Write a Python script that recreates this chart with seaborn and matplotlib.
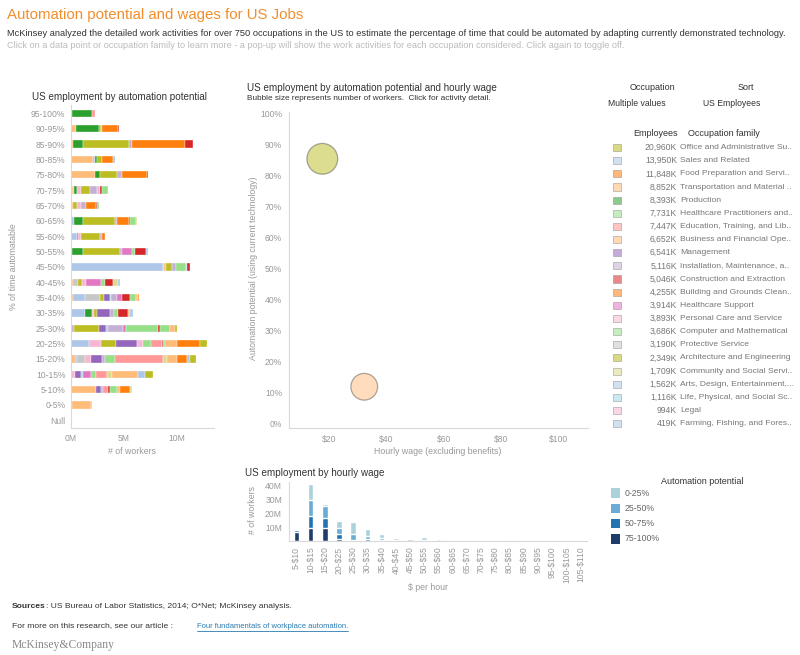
import matplotlib
matplotlib.use("Agg")
import matplotlib.pyplot as plt
import seaborn as sns
import numpy as np
import pandas as pd
from matplotlib.lines import Line2D

sns.set_theme(style="white")
plt.rcParams['font.family'] = ['Liberation Sans', 'DejaVu Sans']

W, H = 800, 655
tick_grey = "#999999"
text_dark = "#333333"
spine_grey = "#d9d9d9"

# ---------------- data ----------------
families = ["Office and Administrative Su..", "Sales and Related", "Food Preparation and Servi..",
            "Transportation and Material ..", "Production", "Healthcare Practitioners and..",
            "Education, Training, and Lib..", "Business and Financial Ope..", "Management",
            "Installation, Maintenance, a..", "Construction and Extraction", "Building and Grounds Clean..",
            "Healthcare Support", "Personal Care and Service", "Computer and Mathematical",
            "Protective Service", "Architecture and Engineering", "Community and Social Servi..",
            "Arts, Design, Entertainment,...", "Life, Physical, and Social Sc..", "Legal",
            "Farming, Fishing, and Fores.."]
family_codes = ["Office", "Sales", "Food", "Transport", "Production", "HealthPrac", "Education",
                "Business", "Management", "Install", "Construction", "Building", "HealthSup",
                "Personal", "Computer", "Protective", "Architecture", "Community", "Arts", "Life",
                "Legal", "Farming"]
employees_k = [20960, 13950, 11848, 8852, 8393, 7731, 7447, 6652, 6541, 5116, 5046, 4255,
               3914, 3893, 3686, 3190, 2349, 1709, 1562, 1116, 994, 419]
family_colors = ["#bcbd22", "#aec7e8", "#ff7f0e", "#ffbb78", "#2ca02c", "#98df8a", "#ff9896",
                 "#ffbb78", "#9467bd", "#c5b0d5", "#d62728", "#ff7f0e", "#e377c2", "#f7b6d2",
                 "#98df8a", "#c7c7c7", "#bcbd22", "#dbdb8d", "#aec7e8", "#9edae5", "#f7b6d2",
                 "#aec7e8"]
fam_color = dict(zip(family_codes, family_colors))

# workers (millions) by automation band, segmented by occupation family
auto_bands = ["95-100%", "90-95%", "85-90%", "80-85%", "75-80%", "70-75%", "65-70%", "60-65%",
              "55-60%", "50-55%", "45-50%", "40-45%", "35-40%", "30-35%", "25-30%", "20-25%",
              "15-20%", "10-15%", "5-10%", "0-5%", "Null"]
band_segments = [
    [("Transport", 0.13), ("Production", 1.85), ("Education", 0.25)],
    [("Transport", 0.47), ("Production", 2.15), ("Office", 0.25), ("Install", 0.1), ("Food", 1.5), ("Construction", 0.1)],
    [("Transport", 0.15), ("Production", 1.0), ("Office", 4.37), ("Install", 0.2), ("Food", 5.0), ("Construction", 0.82)],
    [("Transport", 2.12), ("Sales", 0.16), ("Production", 0.19), ("Office", 0.44), ("Food", 1.1), ("Arts", 0.1)],
    [("Transport", 2.28), ("Production", 0.44), ("Office", 1.58), ("Install", 0.5), ("Food", 2.37), ("Construction", 0.07)],
    [("Transport", 0.22), ("Sales", 0.1), ("Production", 0.22), ("Personal", 0.44), ("Office", 0.8), ("Install", 0.7),
     ("Legal", 0.3), ("Construction", 0.1), ("HealthPrac", 0.6)],
    [("Transport", 0.15), ("Office", 0.4), ("Personal", 0.35), ("Install", 0.55), ("Food", 0.9), ("Construction", 0.12),
     ("HealthPrac", 0.15)],
    [("Sales", 0.3), ("Production", 0.8), ("Office", 3.07), ("Install", 0.2), ("Food", 1.1), ("Construction", 0.12),
     ("HealthPrac", 0.57), ("Community", 0.06)],
    [("Sales", 0.57), ("Production", 0.1), ("Personal", 0.3), ("Office", 1.8), ("Install", 0.15), ("Food", 0.3)],
    [("Sales", 0.1), ("Production", 1.0), ("Office", 3.55), ("Install", 0.15), ("HealthSup", 0.95), ("HealthPrac", 0.3),
     ("Construction", 1.05), ("Arts", 0.2)],
    [("Sales", 8.64), ("Protective", 0.15), ("Transport", 0.15), ("Office", 0.6), ("Install", 0.35), ("HealthPrac", 0.95),
     ("Arts", 0.15), ("Construction", 0.25)],
    [("Transport", 0.2), ("Protective", 0.47), ("Office", 0.38), ("Personal", 0.35), ("HealthSup", 1.42),
     ("HealthPrac", 0.38), ("Construction", 0.8), ("Community", 0.47), ("Sales", 0.12)],
    [("Transport", 0.2), ("Sales", 1.08), ("Protective", 1.45), ("Office", 0.35), ("Management", 0.57), ("Life", 0.12),
     ("Install", 0.54), ("HealthSup", 0.47), ("Construction", 0.82), ("HealthPrac", 0.5), ("Business", 0.2), ("Food", 0.15)],
    [("Sales", 1.36), ("Production", 0.63), ("Personal", 0.22), ("Office", 0.25), ("Management", 1.2), ("Install", 0.4),
     ("HealthPrac", 0.38), ("Construction", 0.92), ("Transport", 0.25), ("Arts", 0.25)],
    [("Install", 0.25), ("Office", 2.37), ("Management", 0.66), ("Sales", 0.2), ("Install", 1.45), ("HealthSup", 0.25),
     ("HealthPrac", 3.04), ("Construction", 0.22), ("Computer", 0.92), ("Business", 0.44), ("Architecture", 0.2)],
    [("Sales", 1.68), ("Personal", 1.17), ("Office", 1.39), ("Management", 2.0), ("Legal", 0.6), ("HealthPrac", 0.73),
     ("Education", 1.0), ("Construction", 0.12), ("Computer", 0.22), ("Business", 1.1), ("Building", 2.15),
     ("Architecture", 0.7)],
    [("Transport", 0.38), ("Sales", 0.2), ("Protective", 0.7), ("Personal", 0.6), ("Management", 1.08), ("Install", 0.25),
     ("HealthPrac", 0.98), ("Education", 4.5), ("Community", 0.38), ("Business", 0.92), ("Building", 0.98),
     ("Arts", 0.22), ("Architecture", 0.57)],
    [("Personal", 0.38), ("Management", 0.54), ("Life", 0.19), ("HealthSup", 0.82), ("HealthPrac", 0.41),
     ("Education", 1.08), ("Community", 0.47), ("Business", 2.44), ("Arts", 0.66), ("Architecture", 0.76)],
    [("Transport", 2.4), ("Management", 0.41), ("Install", 0.22), ("Education", 0.5), ("Construction", 0.19),
     ("HealthPrac", 0.63), ("Business", 0.3), ("Building", 0.92), ("Community", 0.22)],
    [("Management", 0.12), ("Business", 1.74), ("HealthPrac", 0.12)],
    [("Computer", 0.12)],
]

# bubble chart
bubble_family = ["Office", "Business"]
bubble_wage = [17.7, 32.3]
bubble_auto = [85.5, 12.0]
bubble_workers = [20960, 6652]

# hourly wage histogram (millions of workers)
wage_bins = ["5-$10", "10-$15", "15-$20", "20-$25", "25-$30", "30-$35", "35-$40", "40-$45", "45-$50",
             "50-$55", "55-$60", "60-$65", "65-$70", "70-$75", "75-$80", "80-$85", "85-$90", "90-$95",
             "95-$100", "100-$105", "105-$110"]
auto_0_25 = [0.2, 11.1, 1.7, 5.1, 8.4, 5.1, 3.0, 2.0, 1.2, 2.4, 1.3, 0.1, 0.0, 0.0, 0.0, 0.4, 0.0, 0.0, 0.3, 0.0, 0.0]
auto_25_50 = [0.2, 12.1, 8.0, 3.9, 4.6, 2.5, 1.3, 0.4, 0.9, 0.7, 0.2, 0.0, 0.0, 0.0, 0.0, 0.0, 0.0, 0.0, 0.0, 0.0, 0.0]
auto_50_75 = [1.0, 8.5, 7.7, 4.1, 0.5, 1.2, 0.6, 0.1, 0.2, 0.1, 0.0, 0.0, 0.0, 0.0, 0.0, 0.0, 0.0, 0.0, 0.0, 0.0, 0.0]
auto_75_100 = [6.8, 9.2, 9.2, 1.2, 0.3, 0.2, 0.1, 0.0, 0.0, 0.0, 0.0, 0.0, 0.0, 0.0, 0.0, 0.0, 0.0, 0.0, 0.0, 0.0, 0.0]
auto_labels = ["0-25%", "25-50%", "50-75%", "75-100%"]
auto_colors = ["#abd1da", "#68acd7", "#2372b4", "#1f3d6b"]


def rect(l, t, r, b):
    return [l / W, 1 - b / H, (r - l) / W, (b - t) / H]


def ftext(x, y, s, **kw):
    kw.setdefault("va", "center")
    kw.setdefault("fontsize", 6.4)
    kw.setdefault("color", text_dark)
    return fig.text(x / W, 1 - y / H, s, **kw)


def style_axis(ax):
    for sp in ["top", "right"]:
        ax.spines[sp].set_visible(False)
    for sp in ["left", "bottom"]:
        ax.spines[sp].set_color(spine_grey)
        ax.spines[sp].set_linewidth(0.8)
    ax.tick_params(labelsize=6.2, labelcolor=tick_grey, color=spine_grey, length=3, width=0.6, pad=2)


fig = plt.figure(figsize=(W / 100, H / 100), dpi=100)

# header
ftext(7, 15, "Automation potential and wages for US Jobs", fontsize=10.8, color="#f28e2b")
ftext(7, 33, "McKinsey analyzed the detailed work activities for over 750 occupations in the US to estimate the "
             "percentage of time that could be automated by adapting currently demonstrated technology.",
      fontsize=6.65)
ftext(7, 46, "Click on a data point or occupation family to learn more - a pop-up will show the work activities "
             "for each occupation considered. Click again to toggle off.", fontsize=6.6, color="#bbbbbb")

# ---------------- left: stacked bars ----------------
ax1 = fig.add_axes(rect(71, 105, 214, 428))
for i, segs in enumerate(band_segments):
    left = 0.0
    for fam, v in segs:
        ax1.barh(i, v, left=left, height=0.48, color=fam_color[fam], edgecolor="white", linewidth=0.25)
        left += v
ax1.set_ylim(20.5, -0.55)
ax1.set_xlim(0, 13.5)
ax1.set_yticks(range(len(auto_bands)), auto_bands)
ax1.set_xticks([0, 5, 10], ["0M", "5M", "10M"])
style_axis(ax1)
ax1.tick_params(axis="y", length=0, pad=4)
ax1.tick_params(axis="x", length=0, pad=4)
ftext(32, 97, "US employment by automation potential", fontsize=7.1)
ftext(14, 267, "% of time automatable", fontsize=6.3, color=tick_grey, rotation=90, ha="center")
ftext(132, 451, "# of workers", fontsize=6.3, color=tick_grey, ha="center")

# ---------------- middle: bubble chart ----------------
ax2 = fig.add_axes(rect(289, 112, 588, 428))
bub = pd.DataFrame({"family": bubble_family, "wage": bubble_wage,
                    "automation": bubble_auto, "workers": bubble_workers})
sns.scatterplot(data=bub, x="wage", y="automation", hue="family",
                palette=[fam_color[f] for f in bubble_family], size="workers",
                sizes=(370, 490), alpha=0.5, edgecolor="#555555", linewidth=0.9,
                legend=False, ax=ax2)
ax2.set_xlim(6.1, 110.2)
ax2.set_ylim(-1.3, 100.6)
ax2.set_yticks(range(0, 101, 10), [f"{v}%" for v in range(0, 101, 10)])
ax2.set_xticks(range(20, 101, 20), [f"${v}" for v in range(20, 101, 20)])
ax2.set_xlabel("")
ax2.set_ylabel("")
style_axis(ax2)
ax2.tick_params(axis="x", length=0, pad=5)
ftext(247, 88, "US employment by automation potential and hourly wage", fontsize=7.1)
ftext(247, 99, "Bubble size represents number of workers.  Click for activity detail.", fontsize=5.95)
ftext(254, 268, "Automation potential (using current technology)", fontsize=6.3, color=tick_grey,
      rotation=90, ha="center")
ftext(438, 451, "Hourly wage (excluding benefits)", fontsize=6.3, color=tick_grey, ha="center")

# ---------------- bottom: hourly wage histogram ----------------
ax3 = fig.add_axes(rect(289, 482, 587, 541))
layers = [auto_0_25, auto_25_50, auto_50_75, auto_75_100]
for k in range(4):
    heights = np.sum(np.array(layers[k:]), axis=0)
    sns.barplot(x=wage_bins, y=heights, color=auto_colors[k], saturation=1, width=0.4,
                order=wage_bins, errorbar=None, ax=ax3)
ax3.set_xlim(-0.52, len(wage_bins) - 0.55)
ax3.set_ylim(0, 42.5)
ax3.set_yticks([10, 20, 30, 40], ["10M", "20M", "30M", "40M"])
ax3.set_xlabel("")
ax3.set_ylabel("")
style_axis(ax3)
ax3.tick_params(axis="x", rotation=90, length=2)
ftext(245, 473, "US employment by hourly wage", fontsize=7.1)
ftext(253, 510, "# of workers", fontsize=6.3, color=tick_grey, rotation=90, ha="center")
ftext(428, 588, "$ per hour", fontsize=6.3, color=tick_grey, ha="center")

# ---------------- right: occupation legend ----------------
axl = fig.add_axes(rect(600, 141, 800, 430.2))
axl.set_xlim(600, 800)
axl.set_ylim(21.5, -0.5)
axl.axis("off")
rows = np.arange(len(families))
axl.scatter([617] * len(families), rows, marker="s", s=26, c=family_colors, alpha=0.55,
            edgecolors="#888888", linewidths=0.6)
for i in rows:
    axl.text(677, i, f"{employees_k[i]:,}K", ha="right", va="center", fontsize=6.2, color="#777777")
    axl.text(680, i, families[i], ha="left", va="center", fontsize=6.1, color="#777777")
ftext(652, 87, "Occupation", fontsize=6.5, ha="center")
ftext(746, 87, "Sort", fontsize=6.5, ha="center")
ftext(637, 103, "Multiple values", fontsize=6.2, ha="center")
ftext(732, 103, "US Employees", fontsize=6.2, ha="center")
ftext(655, 134, "Employees", fontsize=6.5, ha="center")
ftext(688, 134, "Occupation family", fontsize=6.5, ha="left")

# ---------------- automation potential legend ----------------
axb = fig.add_axes(rect(600, 485.5, 700, 546.5))
axb.set_xlim(600, 700)
axb.set_ylim(3.5, -0.5)
axb.axis("off")
axb.scatter([615.5] * 4, range(4), marker="s", s=45, c=auto_colors, linewidths=0)
for i, lab in enumerate(auto_labels):
    axb.text(625, i, lab, ha="left", va="center", fontsize=6.3, color="#666666")
ftext(702, 481, "Automation potential", fontsize=6.5, ha="center")

# ---------------- footer ----------------
src = ftext(12, 607, "Sources", fontsize=6.1, fontweight="bold")
renderer = fig.canvas.get_renderer()
src_right = src.get_window_extent(renderer).x1
ftext(src_right, 607, ": US Bureau of Labor Statistics, 2014; O*Net; McKinsey analysis.", fontsize=6.1)
ftext(12, 626, "For more on this research, see our article :", fontsize=6.1)
link = ftext(197, 626, "Four fundamentals of workplace automation.", fontsize=5.5, color="#2a7ab0")
link_right = link.get_window_extent(renderer).x1
fig.add_artist(Line2D([197 / W, link_right / W], [1 - 631 / H, 1 - 631 / H], color="#2a7ab0", linewidth=0.6))
ftext(12, 645, "McKinsey&Company", fontsize=8.4, color="#8a8a8a", family=["Liberation Serif", "DejaVu Serif"])

fig.savefig("out.png", dpi=100)
